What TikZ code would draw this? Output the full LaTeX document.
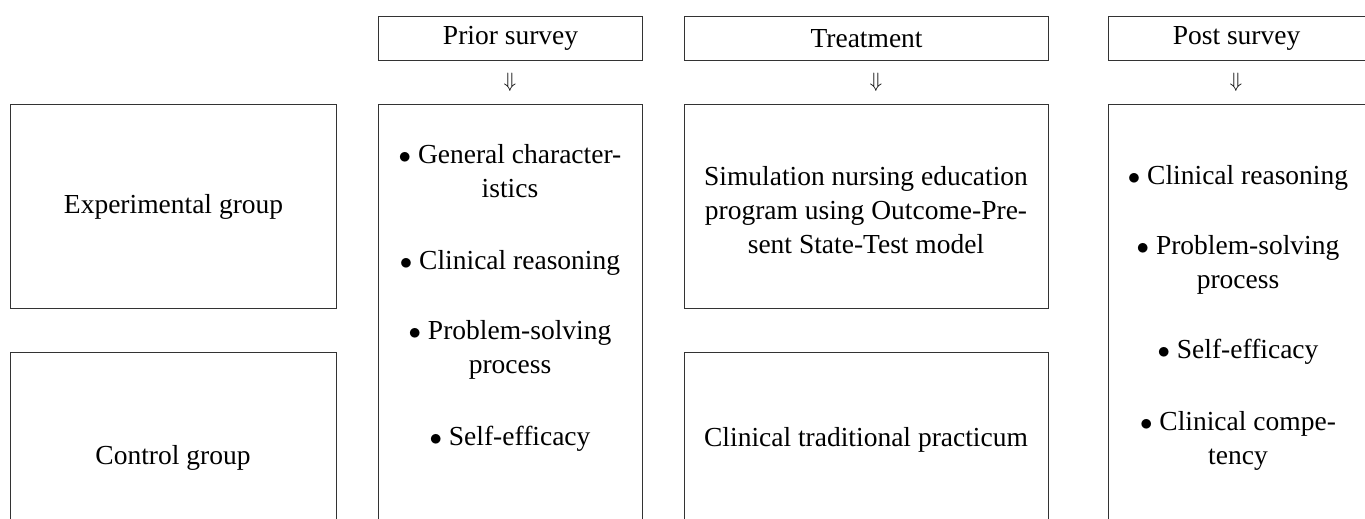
\documentclass[tikz,border=0pt]{standalone}
\usepackage{fontspec}
\setmainfont{Liberation Serif}
\begin{document}
\begin{tikzpicture}[x=1pt,y=-1pt,
  box/.style={draw=black!80,line width=1.1pt,anchor=north west,inner sep=0pt},
  txt/.style={align=center,font=\fontsize{27.5}{34}\selectfont,inner sep=0pt},
  hdr/.style={font=\fontsize{27.5}{30}\selectfont,inner sep=0pt},
  arr/.style={font=\fontsize{20}{24}\selectfont,inner sep=0pt}]
\useasboundingbox (0,0) rectangle (1365,519);
\clip (0,0) rectangle (1365,519);
% header boxes
\node[box,minimum width=264pt,minimum height=44pt] (hp) at (378,16) {};
\node[box,minimum width=364pt,minimum height=44pt] (ht) at (684,16) {};
\node[box,minimum width=300pt,minimum height=44pt] (hq) at (1108,16) {};
\node[hdr] (hpt) at (hp.center) {Prior survey};
\node[hdr] (htt) at (ht.center) {Treatment};
\node[hdr] (hqt) at ([xshift=-22pt]hq.center) {Post survey};
% arrows
\node[arr] (ap) at (510,82) {$\Downarrow$};
\node[arr] (at1) at (876,82) {$\Downarrow$};
\node[arr] (aq) at (1236,82) {$\Downarrow$};
% group boxes
\node[box,minimum width=326pt,minimum height=204pt] (eg) at (10,104) {};
\node[box,minimum width=326pt,minimum height=220pt] (cg) at (10,352) {};
\node[txt] (egt) at (eg.center) {Experimental group};
\node[txt] (cgt) at (173,458) {Control group};
% prior box
\node[box,minimum width=264pt,minimum height=440pt] (pb) at (378,104) {};
\node[txt] (pbt) at (510,298) {$\bullet$ General character-\\istics\\[38pt]$\bullet$ Clinical reasoning\\[36pt]$\bullet$ Problem-solving\\process\\[38pt]$\bullet$ Self-efficacy};
% treatment boxes
\node[box,minimum width=364pt,minimum height=204pt] (sb) at (684,104) {};
\node[box,minimum width=364pt,minimum height=220pt] (cb) at (684,352) {};
\node[txt] (sbt) at (866,210) {Simulation nursing education\\program using Outcome-Pre-\\sent State-Test model};
\node[txt] (cbt) at (866,440) {Clinical traditional practicum};
% post box
\node[box,minimum width=300pt,minimum height=440pt] (qb) at (1108,104) {};
\node[txt] (qbt) at (1238,318) {$\bullet$ Clinical reasoning\\[36pt]$\bullet$ Problem-solving\\process\\[36pt]$\bullet$ Self-efficacy\\[38pt]$\bullet$ Clinical compe-\\tency};
\end{tikzpicture}
\end{document}
